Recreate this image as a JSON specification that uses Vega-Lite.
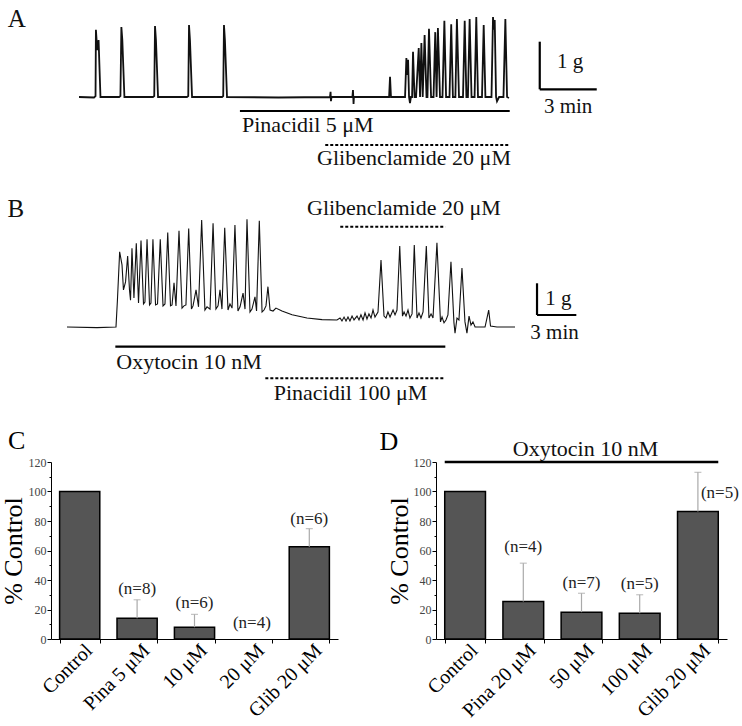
{
  "$schema": "https://vega.github.io/schema/vega-lite/v6.json",
  "background": "white",
  "padding": 0,
  "spacing": 0,
  "config": {
    "view": {"stroke": null},
    "font": "Liberation Serif",
    "axis": {"labelFont": "Liberation Serif", "titleFont": "Liberation Serif", "domainColor": "#000", "tickColor": "#000", "grid": false},
    "axisY": {"labelOverlap": false},
    "text": {"font": "Liberation Serif"},
    "title": {"font": "Liberation Serif", "fontWeight": "normal", "fontSize": 26, "color": "#000"}
  },
  "datasets": {
    "traceA": [
      {"t":0,"g":0},{"t":0.79,"g":-0.01},{"t":0.87,"g":0.02},{"t":0.89,"g":1.43},{"t":0.96,"g":1.0},{"t":1.03,"g":1.21},{"t":1.13,"g":0},
      {"t":2.11,"g":0},{"t":2.18,"g":0.02},{"t":2.23,"g":1.49},{"t":2.28,"g":1.21},{"t":2.39,"g":0},
      {"t":3.89,"g":0},{"t":3.96,"g":0.02},{"t":4.0,"g":1.51},{"t":4.05,"g":1.21},{"t":4.16,"g":0},
      {"t":5.68,"g":0},{"t":5.75,"g":0.02},{"t":5.79,"g":1.53},{"t":5.84,"g":1.21},{"t":5.95,"g":0},
      {"t":7.53,"g":0},{"t":7.59,"g":0.02},{"t":7.63,"g":1.53},{"t":7.68,"g":1.21},{"t":7.79,"g":0},
      {"t":10.5,"g":-0.01},{"t":13.21,"g":0},{"t":13.24,"g":0.11},{"t":13.26,"g":-0.09},{"t":13.29,"g":0},
      {"t":14.39,"g":0},{"t":14.42,"g":0.15},{"t":14.45,"g":-0.15},{"t":14.47,"g":0},
      {"t":16.32,"g":0},{"t":16.37,"g":0.43},{"t":16.42,"g":0},
      {"t":17.16,"g":0},{"t":17.23,"g":0.83},{"t":17.27,"g":0.47},{"t":17.32,"g":0.79},{"t":17.37,"g":0},{"t":17.42,"g":-0.13},{"t":17.47,"g":0},
      {"t":17.53,"g":0},{"t":17.58,"g":0.96},{"t":17.66,"g":0},{"t":17.74,"g":0},{"t":17.88,"g":1.04},{"t":17.95,"g":0},
      {"t":18.02,"g":1.15},{"t":18.09,"g":0},{"t":18.19,"g":1.32},{"t":18.29,"g":0},{"t":18.34,"g":0},{"t":18.42,"g":1.45},{"t":18.53,"g":0},
      {"t":18.66,"g":0},{"t":18.75,"g":1.38},{"t":18.82,"g":0},{"t":18.89,"g":1.47},{"t":19.0,"g":0},
      {"t":19.13,"g":0},{"t":19.23,"g":1.62},{"t":19.32,"g":0},{"t":19.5,"g":0},{"t":19.59,"g":1.55},{"t":19.68,"g":0},
      {"t":19.81,"g":0},{"t":19.89,"g":1.66},{"t":20.0,"g":0},{"t":20.21,"g":0},{"t":20.3,"g":1.62},{"t":20.39,"g":0},
      {"t":20.47,"g":0},{"t":20.56,"g":1.66},{"t":20.66,"g":0},{"t":20.82,"g":0},{"t":20.91,"g":1.7},{"t":21.0,"g":0},
      {"t":21.21,"g":0},{"t":21.3,"g":1.53},{"t":21.39,"g":0},{"t":21.71,"g":0},{"t":21.79,"g":1.7},{"t":21.84,"g":1.43},{"t":21.88,"g":1.64},{"t":21.95,"g":0},
      {"t":22.0,"g":-0.09},{"t":22.11,"g":0},{"t":22.34,"g":0},{"t":22.44,"g":1.66},{"t":22.53,"g":0},{"t":22.63,"g":-0.02}
    ],
    "solidA": [
      {"t":8.47,"t2":22.67,"g":-0.298,"g2":-0.298},
      {"t":24.25,"t2":24.25,"g":0.164,"g2":1.177},
      {"t":24.25,"t2":27.25,"g":0.164,"g2":0.164}
    ],
    "dashA": [
      {"t":12.96,"t2":22.68,"g":-1.02,"g2":-1.02}
    ],
    "textA": [
      {"t":8.58,"g":-0.738,"label":"Pinacidil 5 μM"},
      {"t":12.53,"g":-1.457,"label":"Glibenclamide 20 μM"}
    ],
    "scaleTextA": [
      {"t":25.16,"g":0.617,"label":"1 g"},
      {"t":24.47,"g":-0.334,"label":"3 min"}
    ],
    "letterA": [{"t":-3.75,"g":1.5,"label":"A"}],
    "traceB": [
      {"t":0,"g":0},{"t":2.29,"g":-0.02},{"t":3.74,"g":0},{"t":3.85,"g":0.84},{"t":4.02,"g":2.35},{"t":4.2,"g":1.94},{"t":4.31,"g":1.16},{"t":4.47,"g":1.41},
      {"t":4.63,"g":2.22},{"t":4.77,"g":1.16},{"t":4.85,"g":0.84},{"t":4.96,"g":2.46},{"t":5.11,"g":0.91},{"t":5.29,"g":2.62},{"t":5.46,"g":0.75},
      {"t":5.65,"g":2.7},{"t":5.84,"g":0.72},{"t":5.95,"g":0.78},{"t":6.11,"g":2.74},{"t":6.3,"g":0.69},{"t":6.41,"g":0.75},{"t":6.56,"g":2.74},
      {"t":6.76,"g":0.69},{"t":6.91,"g":0.72},{"t":7.12,"g":2.74},{"t":7.33,"g":0.66},{"t":7.48,"g":0.72},{"t":7.69,"g":2.95},{"t":7.9,"g":0.66},
      {"t":8.02,"g":0.69},{"t":8.17,"g":1.38},{"t":8.32,"g":0.66},{"t":8.55,"g":3.01},{"t":8.78,"g":0.59},{"t":8.93,"g":0.66},{"t":9.08,"g":0.69},
      {"t":9.29,"g":3.08},{"t":9.5,"g":0.56},{"t":9.62,"g":0.66},{"t":9.85,"g":1.16},{"t":10.04,"g":0.63},{"t":10.28,"g":3.34},{"t":10.53,"g":0.53},
      {"t":10.69,"g":0.63},{"t":10.92,"g":0.56},{"t":11.15,"g":3.24},{"t":11.37,"g":0.56},{"t":11.53,"g":0.66},{"t":11.68,"g":1.16},{"t":11.83,"g":0.56},
      {"t":12.04,"g":3.1},{"t":12.29,"g":0.53},{"t":12.44,"g":0.72},{"t":12.6,"g":0.59},{"t":12.82,"g":3.19},{"t":13.05,"g":0.5},{"t":13.21,"g":0.63},
      {"t":13.44,"g":1.06},{"t":13.59,"g":0.56},{"t":13.74,"g":3.37},{"t":13.97,"g":0.47},{"t":14.12,"g":0.56},{"t":14.35,"g":0.94},{"t":14.47,"g":0.5},
      {"t":14.68,"g":3.32},{"t":14.89,"g":0.47},{"t":15.04,"g":0.53},{"t":15.19,"g":0.66},{"t":15.34,"g":1.26},{"t":15.5,"g":0.53},{"t":15.73,"g":0.5},
      {"t":15.95,"g":0.59},{"t":16.41,"g":0.5},{"t":17.18,"g":0.38},{"t":18.32,"g":0.28},{"t":19.47,"g":0.23},{"t":20.61,"g":0.22},
      {"t":20.84,"g":0.28},{"t":20.99,"g":0.19},{"t":21.15,"g":0.31},{"t":21.3,"g":0.19},{"t":21.45,"g":0.31},{"t":21.6,"g":0.19},{"t":21.76,"g":0.34},
      {"t":21.91,"g":0.22},{"t":22.14,"g":0.34},{"t":22.29,"g":0.22},{"t":22.44,"g":0.38},{"t":22.6,"g":0.22},{"t":22.75,"g":0.44},{"t":22.9,"g":0.25},
      {"t":23.05,"g":0.41},{"t":23.21,"g":0.28},{"t":23.36,"g":0.53},{"t":23.51,"g":0.31},{"t":23.74,"g":0.47},{"t":23.97,"g":2.09},{"t":24.2,"g":0.34},
      {"t":24.35,"g":0.28},{"t":24.5,"g":0.47},{"t":24.66,"g":0.31},{"t":24.89,"g":0.53},{"t":25.04,"g":0.38},{"t":25.19,"g":0.53},{"t":25.4,"g":2.53},
      {"t":25.61,"g":0.34},{"t":25.73,"g":0.47},{"t":25.88,"g":0.34},{"t":26.03,"g":0.53},{"t":26.18,"g":0.28},{"t":26.34,"g":0.41},{"t":26.51,"g":2.56},
      {"t":26.72,"g":0.28},{"t":26.87,"g":0.44},{"t":27.02,"g":0.28},{"t":27.18,"g":0.47},{"t":27.43,"g":2.53},{"t":27.63,"g":0.28},{"t":27.79,"g":0.41},
      {"t":27.94,"g":0.28},{"t":28.24,"g":2.63},{"t":28.51,"g":0.16},{"t":28.63,"g":0.31},{"t":28.78,"g":0.13},{"t":28.93,"g":0.22},{"t":29.08,"g":0.38},
      {"t":29.31,"g":2.04},{"t":29.54,"g":0.13},{"t":29.62,"g":-0.19},{"t":29.77,"g":0.28},{"t":29.92,"g":0.22},{"t":30.15,"g":1.84},{"t":30.38,"g":0.16},
      {"t":30.53,"g":-0.19},{"t":30.69,"g":0.34},{"t":30.84,"g":0.06},{"t":30.99,"g":0.16},{"t":31.15,"g":0},{"t":31.91,"g":0},{"t":32.06,"g":0.28},
      {"t":32.19,"g":0.53},{"t":32.33,"g":0.03},{"t":32.82,"g":0},{"t":34.2,"g":0}
    ],
    "solidB": [
      {"t":3.69,"t2":28.88,"g":-0.615,"g2":-0.615},
      {"t":35.88,"t2":35.88,"g":0.375,"g2":1.366},
      {"t":35.88,"t2":38.88,"g":0.375,"g2":0.375}
    ],
    "dashB": [
      {"t":20.86,"t2":28.88,"g":3.13,"g2":3.13},
      {"t":15.14,"t2":28.76,"g":-1.6,"g2":-1.6}
    ],
    "textB": [
      {"t":18.32,"g":3.5,"label":"Glibenclamide 20 μM"},
      {"t":3.76,"g":-1.31,"label":"Oxytocin 10 nM"},
      {"t":15.78,"g":-2.28,"label":"Pinacidil 100 μM"}
    ],
    "scaleTextB": [
      {"t":36.51,"g":0.69,"label":"1 g"},
      {"t":35.37,"g":-0.385,"label":"3 min"}
    ],
    "letterB": [{"t":-4.55,"g":3.45,"label":"B"}],
    "barsC": [
      {"cond":"Control","pct":100,"top":null,"n":null,"label_at":null},
      {"cond":"Pina 5 μM","pct":14,"top":26.6,"n":"(n=8)","label_at":34},
      {"cond":"10 μM","pct":8,"top":16.7,"n":"(n=6)","label_at":24.5},
      {"cond":"20 μM","pct":0,"top":null,"n":"(n=4)","label_at":11},
      {"cond":"Glib 20 μM","pct":62.5,"top":74.8,"n":"(n=6)","label_at":81.5}
    ],
    "barsD": [
      {"cond":"Control","pct":100,"top":null,"n":null,"label_at":null},
      {"cond":"Pina 20 μM","pct":25.4,"top":51.4,"n":"(n=4)","label_at":62.7},
      {"cond":"50 μM","pct":18.2,"top":31,"n":"(n=7)","label_at":37.8},
      {"cond":"100 μM","pct":17.5,"top":30,"n":"(n=5)","label_at":37.2},
      {"cond":"Glib 20 μM","pct":86.4,"top":113,"n":"(n=5)","label_at":98.8}
    ],
    "oxyD": [{"from":"Control","to":"Glib 20 μM","at":"50 μM","level":120,"label_level":128.5,"label":"Oxytocin 10 nM"}]
  },
  "vconcat": [
    {
      "width": 688,
      "height": 170,
      "encoding": {
        "x": {"field": "t", "type": "quantitative", "scale": {"domain": [-1.474, 34.737], "nice": false, "zero": false}, "axis": null},
        "y": {"field": "g", "type": "quantitative", "scale": {"domain": [-1.553, 2.064], "nice": false, "zero": false}, "axis": null}
      },
      "layer": [
        {"data": {"name": "traceA"}, "mark": {"type": "line", "color": "#111", "strokeWidth": 1.8}},
        {"data": {"name": "solidA"}, "mark": {"type": "rule", "color": "#000", "strokeWidth": 2.2}, "encoding": {"x2": {"field": "t2"}, "y2": {"field": "g2"}}},
        {"data": {"name": "dashA"}, "mark": {"type": "rule", "color": "#000", "strokeWidth": 2, "strokeDash": [3, 2]}, "encoding": {"x2": {"field": "t2"}, "y2": {"field": "g2"}}},
        {"data": {"name": "textA"}, "mark": {"type": "text", "align": "left", "baseline": "alphabetic", "fontSize": 22, "color": "#111"}, "encoding": {"text": {"field": "label"}}},
        {"data": {"name": "scaleTextA"}, "mark": {"type": "text", "align": "left", "baseline": "alphabetic", "fontSize": 21, "color": "#111"}, "encoding": {"text": {"field": "label"}}},
        {"data": {"name": "letterA"}, "mark": {"type": "text", "align": "left", "baseline": "alphabetic", "fontSize": 25, "color": "#111"}, "encoding": {"text": {"field": "label"}}}
      ]
    },
    {
      "width": 688,
      "height": 258,
      "encoding": {
        "x": {"field": "t", "type": "quantitative", "scale": {"domain": [-1.221, 51.298], "nice": false, "zero": false}, "axis": null},
        "y": {"field": "g", "type": "quantitative", "scale": {"domain": [-3.156, 4.906], "nice": false, "zero": false}, "axis": null}
      },
      "layer": [
        {"data": {"name": "traceB"}, "mark": {"type": "line", "color": "#111", "strokeWidth": 1.1}},
        {"data": {"name": "solidB"}, "mark": {"type": "rule", "color": "#000", "strokeWidth": 2.2}, "encoding": {"x2": {"field": "t2"}, "y2": {"field": "g2"}}},
        {"data": {"name": "dashB"}, "mark": {"type": "rule", "color": "#000", "strokeWidth": 2, "strokeDash": [3, 2]}, "encoding": {"x2": {"field": "t2"}, "y2": {"field": "g2"}}},
        {"data": {"name": "textB"}, "mark": {"type": "text", "align": "left", "baseline": "alphabetic", "fontSize": 22, "color": "#111"}, "encoding": {"text": {"field": "label"}}},
        {"data": {"name": "scaleTextB"}, "mark": {"type": "text", "align": "left", "baseline": "alphabetic", "fontSize": 21, "color": "#111"}, "encoding": {"text": {"field": "label"}}},
        {"data": {"name": "letterB"}, "mark": {"type": "text", "align": "left", "baseline": "alphabetic", "fontSize": 25, "color": "#111"}, "encoding": {"text": {"field": "label"}}}
      ]
    },
    {
      "bounds": "flush",
      "spacing": 98,
      "hconcat": [
        {
          "width": 287,
          "height": 177,
          "title": {"text": "C", "anchor": "start", "frame": "bounds", "fontSize": 26, "offset": 2, "dx": 8},
          "data": {"name": "barsC"},
          "encoding": {
            "x": {"field": "cond", "type": "nominal", "sort": null,
              "scale": {"domain": ["Control", "Pina 5 μM", "10 μM", "20 μM", "Glib 20 μM"], "paddingInner": 0.3, "paddingOuter": 0.15},
              "axis": {"title": null, "labelAngle": -45, "labelAlign": "right", "labelBaseline": "middle", "labelFontSize": 20, "labelColor": "#000", "labelPadding": 4, "labelOffset": 9, "tickBand": "extent", "tickSize": 4}}
          },
          "layer": [
            {"transform": [{"filter": "datum.pct > 0"}],
              "mark": {"type": "bar", "fill": "#555555", "stroke": "#000", "strokeWidth": 1.5},
              "encoding": {"y": {"field": "pct", "type": "quantitative", "scale": {"domain": [0, 120], "nice": false},
                "axis": {"title": "% Control", "values": [0,10,20,30,40,50,60,70,80,90,100,110,120], "labelExpr": "datum.value % 20 === 0 ? datum.label : ''", "labelOverlap": false,
                  "tickSize": {"condition": {"test": "datum.value % 20 === 0", "value": 4}, "value": 2},
                  "labelFontSize": 12, "labelColor": "#444", "labelPadding": 1, "titleFontSize": 26, "titleFontWeight": "normal", "titleColor": "#000", "titlePadding": 2}}}},
            {"mark": {"type": "rule", "color": "#aaa", "strokeWidth": 1.2},
              "encoding": {"y": {"field": "pct", "type": "quantitative",
                "axis": {"title": "% Control", "values": [0,10,20,30,40,50,60,70,80,90,100,110,120], "labelExpr": "datum.value % 20 === 0 ? datum.label : ''", "labelOverlap": false,
                  "tickSize": {"condition": {"test": "datum.value % 20 === 0", "value": 4}, "value": 2},
                  "labelFontSize": 12, "labelColor": "#444", "labelPadding": 1, "titleFontSize": 26, "titleFontWeight": "normal", "titleColor": "#000", "titlePadding": 2}}, "y2": {"field": "top"}}},
            {"mark": {"type": "tick", "orient": "horizontal", "size": 7, "thickness": 1.2, "color": "#aaa"},
              "encoding": {"y": {"field": "top", "type": "quantitative",
                "axis": {"title": "% Control", "values": [0,10,20,30,40,50,60,70,80,90,100,110,120], "labelExpr": "datum.value % 20 === 0 ? datum.label : ''", "labelOverlap": false,
                  "tickSize": {"condition": {"test": "datum.value % 20 === 0", "value": 4}, "value": 2},
                  "labelFontSize": 12, "labelColor": "#444", "labelPadding": 1, "titleFontSize": 26, "titleFontWeight": "normal", "titleColor": "#000", "titlePadding": 2}}}},
            {"mark": {"type": "text", "fontSize": 17, "baseline": "middle", "color": "#222"},
              "encoding": {"y": {"field": "label_at", "type": "quantitative",
                "axis": {"title": "% Control", "values": [0,10,20,30,40,50,60,70,80,90,100,110,120], "labelExpr": "datum.value % 20 === 0 ? datum.label : ''", "labelOverlap": false,
                  "tickSize": {"condition": {"test": "datum.value % 20 === 0", "value": 4}, "value": 2},
                  "labelFontSize": 12, "labelColor": "#444", "labelPadding": 1, "titleFontSize": 26, "titleFontWeight": "normal", "titleColor": "#000", "titlePadding": 2}}, "text": {"field": "n"}}}
          ]
        },
        {
          "width": 291,
          "height": 177,
          "title": {"text": "D", "orient": "left", "anchor": "end", "angle": 0, "frame": "bounds", "align": "right", "baseline": "top", "fontSize": 26, "offset": -31, "dy": -9},
          "data": {"name": "barsD"},
          "encoding": {
            "x": {"field": "cond", "type": "nominal", "sort": null,
              "scale": {"domain": ["Control", "Pina 20 μM", "50 μM", "100 μM", "Glib 20 μM"], "paddingInner": 0.3, "paddingOuter": 0.15},
              "axis": {"title": null, "labelAngle": -45, "labelAlign": "right", "labelBaseline": "middle", "labelFontSize": 20, "labelColor": "#000", "labelPadding": 4, "labelOffset": 9, "tickBand": "extent", "tickSize": 4}}
          },
          "layer": [
            {"mark": {"type": "bar", "fill": "#555555", "stroke": "#000", "strokeWidth": 1.5},
              "encoding": {"y": {"field": "pct", "type": "quantitative", "scale": {"domain": [0, 120], "nice": false},
                "axis": {"title": "% Control", "values": [0,10,20,30,40,50,60,70,80,90,100,110,120], "labelExpr": "datum.value % 20 === 0 ? datum.label : ''", "labelOverlap": false,
                  "tickSize": {"condition": {"test": "datum.value % 20 === 0", "value": 4}, "value": 2},
                  "labelFontSize": 12, "labelColor": "#444", "labelPadding": 1, "titleFontSize": 26, "titleFontWeight": "normal", "titleColor": "#000", "titlePadding": 1}}}},
            {"mark": {"type": "rule", "color": "#aaa", "strokeWidth": 1.2},
              "encoding": {"y": {"field": "pct", "type": "quantitative",
                "axis": {"title": "% Control", "values": [0,10,20,30,40,50,60,70,80,90,100,110,120], "labelExpr": "datum.value % 20 === 0 ? datum.label : ''", "labelOverlap": false,
                  "tickSize": {"condition": {"test": "datum.value % 20 === 0", "value": 4}, "value": 2},
                  "labelFontSize": 12, "labelColor": "#444", "labelPadding": 1, "titleFontSize": 26, "titleFontWeight": "normal", "titleColor": "#000", "titlePadding": 1}}, "y2": {"field": "top"}}},
            {"mark": {"type": "tick", "orient": "horizontal", "size": 7, "thickness": 1.2, "color": "#aaa"},
              "encoding": {"y": {"field": "top", "type": "quantitative",
                "axis": {"title": "% Control", "values": [0,10,20,30,40,50,60,70,80,90,100,110,120], "labelExpr": "datum.value % 20 === 0 ? datum.label : ''", "labelOverlap": false,
                  "tickSize": {"condition": {"test": "datum.value % 20 === 0", "value": 4}, "value": 2},
                  "labelFontSize": 12, "labelColor": "#444", "labelPadding": 1, "titleFontSize": 26, "titleFontWeight": "normal", "titleColor": "#000", "titlePadding": 1}}}},
            {"transform": [{"filter": "datum.cond !== 'Glib 20 μM'"}],
              "mark": {"type": "text", "fontSize": 17, "baseline": "middle", "color": "#222"},
              "encoding": {"y": {"field": "label_at", "type": "quantitative",
                "axis": {"title": "% Control", "values": [0,10,20,30,40,50,60,70,80,90,100,110,120], "labelExpr": "datum.value % 20 === 0 ? datum.label : ''", "labelOverlap": false,
                  "tickSize": {"condition": {"test": "datum.value % 20 === 0", "value": 4}, "value": 2},
                  "labelFontSize": 12, "labelColor": "#444", "labelPadding": 1, "titleFontSize": 26, "titleFontWeight": "normal", "titleColor": "#000", "titlePadding": 1}}, "text": {"field": "n"}}},
            {"transform": [{"filter": "datum.cond === 'Glib 20 μM'"}],
              "mark": {"type": "text", "fontSize": 17, "baseline": "middle", "color": "#222", "dx": 22},
              "encoding": {"y": {"field": "label_at", "type": "quantitative",
                "axis": {"title": "% Control", "values": [0,10,20,30,40,50,60,70,80,90,100,110,120], "labelExpr": "datum.value % 20 === 0 ? datum.label : ''", "labelOverlap": false,
                  "tickSize": {"condition": {"test": "datum.value % 20 === 0", "value": 4}, "value": 2},
                  "labelFontSize": 12, "labelColor": "#444", "labelPadding": 1, "titleFontSize": 26, "titleFontWeight": "normal", "titleColor": "#000", "titlePadding": 1}}, "text": {"field": "n"}}},
            {"data": {"name": "oxyD"},
              "mark": {"type": "rule", "color": "#000", "strokeWidth": 2.5},
              "encoding": {"x": {"field": "from", "type": "nominal", "bandPosition": 0}, "x2": {"field": "to", "bandPosition": 1}, "y": {"field": "level", "type": "quantitative",
                "axis": {"title": "% Control", "values": [0,10,20,30,40,50,60,70,80,90,100,110,120], "labelExpr": "datum.value % 20 === 0 ? datum.label : ''", "labelOverlap": false,
                  "tickSize": {"condition": {"test": "datum.value % 20 === 0", "value": 4}, "value": 2},
                  "labelFontSize": 12, "labelColor": "#444", "labelPadding": 1, "titleFontSize": 26, "titleFontWeight": "normal", "titleColor": "#000", "titlePadding": 1}}}},
            {"data": {"name": "oxyD"},
              "mark": {"type": "text", "fontSize": 22, "baseline": "middle", "color": "#111", "dx": 4},
              "encoding": {"x": {"field": "at", "type": "nominal"}, "y": {"field": "label_level", "type": "quantitative",
                "axis": {"title": "% Control", "values": [0,10,20,30,40,50,60,70,80,90,100,110,120], "labelExpr": "datum.value % 20 === 0 ? datum.label : ''", "labelOverlap": false,
                  "tickSize": {"condition": {"test": "datum.value % 20 === 0", "value": 4}, "value": 2},
                  "labelFontSize": 12, "labelColor": "#444", "labelPadding": 1, "titleFontSize": 26, "titleFontWeight": "normal", "titleColor": "#000", "titlePadding": 1}}, "text": {"field": "label"}}}
          ]
        }
      ]
    }
  ]
}
